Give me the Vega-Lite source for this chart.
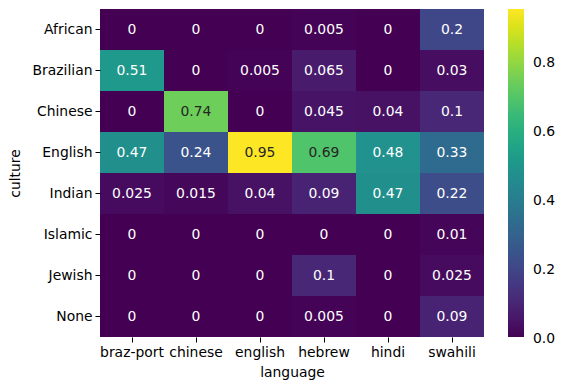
{
  "$schema": "https://vega.github.io/schema/vega-lite/v6.json",
  "autosize": {"type": "none"},
  "padding": {"left": 100, "top": 9, "right": 82, "bottom": 53},
  "width": 384,
  "height": 328,
  "background": "white",
  "config": {
    "view": {"stroke": null},
    "font": "DejaVu Sans",
    "axis": {"labelFont": "DejaVu Sans", "titleFont": "DejaVu Sans", "labelFontSize": 13.9, "titleFontSize": 13.9, "titleFontWeight": "normal", "labelColor": "#000", "titleColor": "#000", "tickColor": "#000", "domain": false, "grid": false, "tickSize": 5},
    "legend": {"labelFont": "DejaVu Sans", "labelFontSize": 13.9, "labelColor": "#000"}
  },
  "data": {
    "values": [
      {"culture": "African", "language": "braz-port", "value": 0},
      {"culture": "African", "language": "chinese", "value": 0},
      {"culture": "African", "language": "english", "value": 0},
      {"culture": "African", "language": "hebrew", "value": 0.005},
      {"culture": "African", "language": "hindi", "value": 0},
      {"culture": "African", "language": "swahili", "value": 0.2},
      {"culture": "Brazilian", "language": "braz-port", "value": 0.51},
      {"culture": "Brazilian", "language": "chinese", "value": 0},
      {"culture": "Brazilian", "language": "english", "value": 0.005},
      {"culture": "Brazilian", "language": "hebrew", "value": 0.065},
      {"culture": "Brazilian", "language": "hindi", "value": 0},
      {"culture": "Brazilian", "language": "swahili", "value": 0.03},
      {"culture": "Chinese", "language": "braz-port", "value": 0},
      {"culture": "Chinese", "language": "chinese", "value": 0.74},
      {"culture": "Chinese", "language": "english", "value": 0},
      {"culture": "Chinese", "language": "hebrew", "value": 0.045},
      {"culture": "Chinese", "language": "hindi", "value": 0.04},
      {"culture": "Chinese", "language": "swahili", "value": 0.1},
      {"culture": "English", "language": "braz-port", "value": 0.47},
      {"culture": "English", "language": "chinese", "value": 0.24},
      {"culture": "English", "language": "english", "value": 0.95},
      {"culture": "English", "language": "hebrew", "value": 0.69},
      {"culture": "English", "language": "hindi", "value": 0.48},
      {"culture": "English", "language": "swahili", "value": 0.33},
      {"culture": "Indian", "language": "braz-port", "value": 0.025},
      {"culture": "Indian", "language": "chinese", "value": 0.015},
      {"culture": "Indian", "language": "english", "value": 0.04},
      {"culture": "Indian", "language": "hebrew", "value": 0.09},
      {"culture": "Indian", "language": "hindi", "value": 0.47},
      {"culture": "Indian", "language": "swahili", "value": 0.22},
      {"culture": "Islamic", "language": "braz-port", "value": 0},
      {"culture": "Islamic", "language": "chinese", "value": 0},
      {"culture": "Islamic", "language": "english", "value": 0},
      {"culture": "Islamic", "language": "hebrew", "value": 0},
      {"culture": "Islamic", "language": "hindi", "value": 0},
      {"culture": "Islamic", "language": "swahili", "value": 0.01},
      {"culture": "Jewish", "language": "braz-port", "value": 0},
      {"culture": "Jewish", "language": "chinese", "value": 0},
      {"culture": "Jewish", "language": "english", "value": 0},
      {"culture": "Jewish", "language": "hebrew", "value": 0.1},
      {"culture": "Jewish", "language": "hindi", "value": 0},
      {"culture": "Jewish", "language": "swahili", "value": 0.025},
      {"culture": "None", "language": "braz-port", "value": 0},
      {"culture": "None", "language": "chinese", "value": 0},
      {"culture": "None", "language": "english", "value": 0},
      {"culture": "None", "language": "hebrew", "value": 0.005},
      {"culture": "None", "language": "hindi", "value": 0},
      {"culture": "None", "language": "swahili", "value": 0.09}
    ]
  },
  "encoding": {
    "x": {"field": "language", "type": "nominal", "sort": null, "scale": {"paddingInner": 0, "paddingOuter": 0}, "axis": {"labelAngle": 0, "title": "language", "labelPadding": 3, "titlePadding": 7}},
    "y": {"field": "culture", "type": "nominal", "sort": null, "scale": {"paddingInner": 0, "paddingOuter": 0}, "axis": {"title": "culture", "labelPadding": 3, "titlePadding": 10}}
  },
  "layer": [
    {
      "mark": {"type": "rect", "strokeWidth": 0},
      "encoding": {
        "color": {"field": "value", "type": "quantitative", "scale": {"scheme": "viridis", "domain": [0, 0.95]}, "legend": {"title": null, "orient": "right", "offset": 24, "gradientLength": 328, "gradientThickness": 16, "values": [0, 0.2, 0.4, 0.6, 0.8], "format": ".1f", "gradientStrokeWidth": 0, "labelOffset": 9, "labelOverlap": false, "encode": {"labels": {"update": {"baseline": {"value": "middle"}, "dy": {"value": 2}}}}}}
      }
    },
    {
      "mark": {"type": "text", "fontSize": 13.9, "font": "DejaVu Sans"},
      "encoding": {
        "text": {"field": "value", "type": "quantitative", "format": ".3~g"},
        "color": {"condition": {"test": "datum.value > 0.6", "value": "#262626"}, "value": "#ffffff"}
      }
    }
  ]
}
